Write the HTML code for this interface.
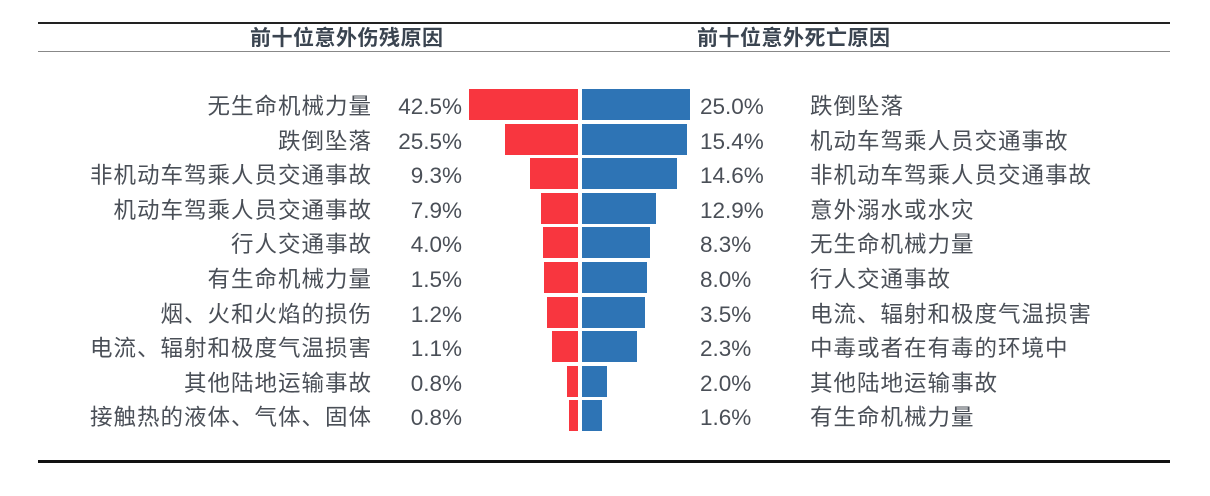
<!DOCTYPE html><html><head><meta charset="utf-8"><style>
body{margin:0;width:1210px;height:496px;background:#fff;position:relative;overflow:hidden;font-family:"Liberation Sans","Noto Sans CJK SC",sans-serif;color:#4a4f57}
div{position:absolute}
.h{top:24px;font-weight:bold;font-size:21px;color:#3a4450;line-height:30px;letter-spacing:0.5px}
.l,.lp,.rp,.rl{line-height:31px;white-space:nowrap}
.l{right:838px;font-size:22.5px;letter-spacing:1px}
.lp{right:748px;font-size:22.5px}
.rp{left:700px;font-size:22.5px}
.rl{left:810px;font-size:22.5px;letter-spacing:1px}
.r{background:#f8363f;height:31px}
.b{background:#2e74b5;height:31px;left:582px}
</style></head><body>
<div style="left:38px;top:22px;width:1132px;height:2px;background:#222"></div>
<div style="left:38px;top:51px;width:1132px;height:1px;background:#888"></div>
<div style="left:38px;top:460px;width:1132px;height:3px;background:#111"></div>
<div class="h" style="left:250px">前十位意外伤残原因</div>
<div class="h" style="left:697px">前十位意外死亡原因</div>
<div id="c"></div>
<script>
var L=[["无生命机械力量","42.5%",469],["跌倒坠落","25.5%",505],["非机动车驾乘人员交通事故","9.3%",530],["机动车驾乘人员交通事故","7.9%",541],["行人交通事故","4.0%",543],["有生命机械力量","1.5%",544],["烟、火和火焰的损伤","1.2%",547],["电流、辐射和极度气温损害","1.1%",552],["其他陆地运输事故","0.8%",567],["接触热的液体、气体、固体","0.8%",569]];
var R=[["跌倒坠落","25.0%",690],["机动车驾乘人员交通事故","15.4%",687],["非机动车驾乘人员交通事故","14.6%",677],["意外溺水或水灾","12.9%",656],["无生命机械力量","8.3%",650],["行人交通事故","8.0%",647],["电流、辐射和极度气温损害","3.5%",645],["中毒或者在有毒的环境中","2.3%",637],["其他陆地运输事故","2.0%",607],["有生命机械力量","1.6%",602]];
var h="";
for(var i=0;i<10;i++){var y=89+i*34.6,t=y+2;
h+='<div class="r" style="top:'+y+'px;left:'+L[i][2]+'px;width:'+(578-L[i][2])+'px"></div>';
h+='<div class="b" style="top:'+y+'px;width:'+(R[i][2]-582)+'px"></div>';
h+='<div class="l" style="top:'+t+'px">'+L[i][0]+'</div><div class="lp" style="top:'+t+'px">'+L[i][1]+'</div>';
h+='<div class="rp" style="top:'+t+'px">'+R[i][1]+'</div><div class="rl" style="top:'+t+'px">'+R[i][0]+'</div>';}
document.getElementById("c").outerHTML=h;
</script></body></html>
